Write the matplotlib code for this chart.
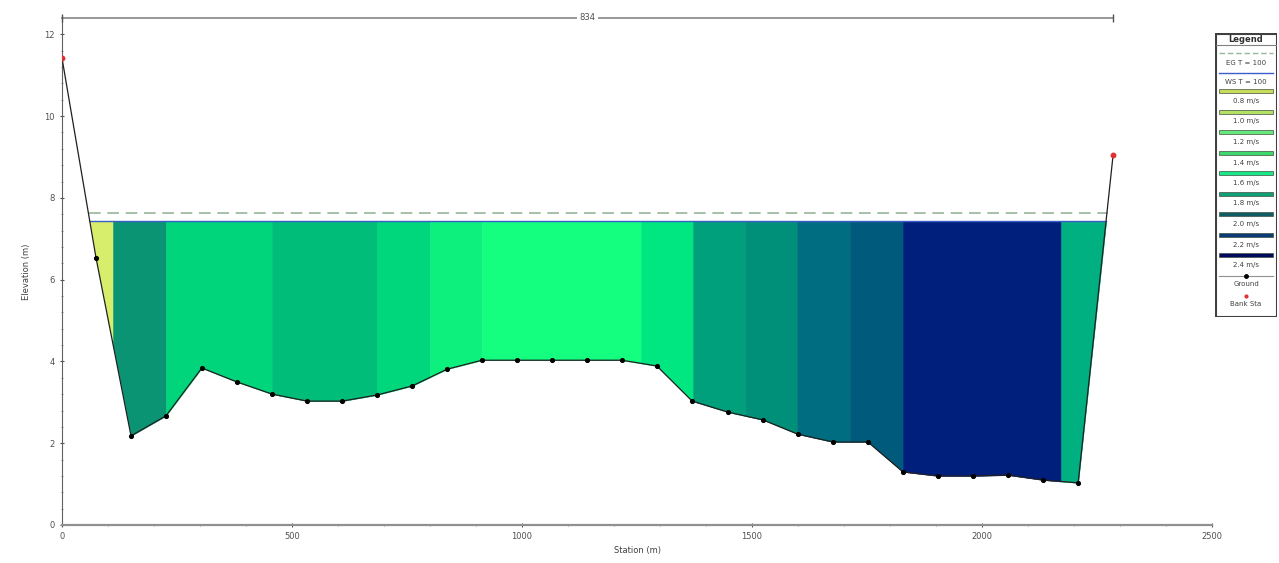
import numpy as np
import matplotlib
matplotlib.use("Agg")
import matplotlib.pyplot as plt
from matplotlib.patches import Rectangle

# ---------------- data ----------------
station = [0, 74, 150, 226, 304, 380, 457, 533, 609, 685, 761, 837, 913, 989,
           1065, 1141, 1217, 1293, 1370, 1448, 1524, 1600, 1676, 1752, 1828,
           1904, 1980, 2057, 2133, 2209, 2285]
elev = [11.42, 6.53, 2.18, 2.67, 3.84, 3.50, 3.20, 3.03, 3.03, 3.18, 3.40,
        3.81, 4.03, 4.03, 4.03, 4.03, 4.03, 3.89, 3.03, 2.76, 2.57, 2.22,
        2.03, 2.03, 1.30, 1.20, 1.20, 1.22, 1.10, 1.03, 9.05]
bank_sta = [0, 2285]
bank_elev = [11.42, 9.05]
ws_elev = 7.43
eg_elev = 7.63
band_edges = [61, 111, 226, 457, 685, 800, 913, 1259, 1372, 1485, 1598,
              1713, 1828, 2172, 2270]
band_colors = ["#d6ee6c", "#0a9474", "#00d57c", "#00bd79", "#00d67c",
               "#0ef07e", "#14ff80", "#00e680", "#00a07c", "#00907a",
               "#006e80", "#005a7c", "#001e7c", "#00b080"]
legend_labels = ["0.8 m/s", "1.0 m/s", "1.2 m/s", "1.4 m/s", "1.6 m/s",
                 "1.8 m/s", "2.0 m/s", "2.2 m/s", "2.4 m/s"]
legend_colors = ["#c8dc5c", "#b4e064", "#64e87c", "#3cd86c", "#18e888",
                 "#10a078", "#105c64", "#0c3c78", "#000a5c"]
section_label = "834"
xticks = [0, 500, 1000, 1500, 2000, 2500]
yticks = [0, 2, 4, 6, 8, 10, 12]

# ---------------- figure ----------------
W, H = 1279, 563
fig = plt.figure(figsize=(W / 100, H / 100), dpi=100)
fig.patch.set_facecolor("white")
ax = fig.add_axes([62 / W, (H - 525) / H, (1212 - 62) / W, (525 - 18) / H])
ax.set_xlim(0, 2500)
ax.set_ylim(0, 12.4)

st = np.array(station, float)
el = np.array(elev, float)

# velocity bands
for i, c in enumerate(band_colors):
    a, b = band_edges[i], band_edges[i + 1]
    inner = st[(st > a) & (st < b)]
    xs = np.concatenate([[a], inner, [b]])
    gs = np.minimum(np.interp(xs, st, el), ws_elev)
    ax.fill_between(xs, gs, ws_elev, facecolor=c, edgecolor=c, lw=0.4,
                    zorder=2)

# water surface & energy grade
ax.plot([band_edges[0], band_edges[-1]], [ws_elev, ws_elev], color="#3a5ec8",
        lw=1.0, zorder=3)
ax.plot([band_edges[0] - 3, band_edges[-1] + 3], [eg_elev, eg_elev],
        color="#98b49a", lw=1.2, dashes=(7, 4), zorder=3)

# ground
ax.plot(st, el, color="#202020", lw=0.9, zorder=4)
ax.plot(st[1:-1], el[1:-1], "o", color="black", ms=2.7, zorder=5)
ax.plot(bank_sta, bank_elev, "o", color="#e03030", ms=3.2, zorder=6)

# top section-length line
ax.plot([bank_sta[0], bank_sta[1]], [12.4, 12.4], color="#909090", lw=1.3,
        clip_on=False, zorder=3)
ax.plot([bank_sta[0], bank_sta[1]], [12.4, 12.4], "|", color="#505050",
        ms=6, clip_on=False, zorder=3)
ax.text((bank_sta[0] + bank_sta[1]) / 2, 12.4, section_label, fontsize=6,
        color="#505050", ha="center", va="center",
        bbox=dict(facecolor="white", edgecolor="none", pad=1.5), zorder=4)

# axes styling
for s in ["top", "right"]:
    ax.spines[s].set_visible(False)
ax.spines["left"].set_color("#606060")
ax.spines["bottom"].set_color("#909090")
ax.spines["bottom"].set_linewidth(1.6)
ax.set_xticks(xticks)
ax.set_yticks(yticks)
ax.set_xticks(np.arange(0, 2501, 100), minor=True)
ax.set_yticks(np.arange(0, 12.01, 0.4), minor=True)
ax.tick_params(axis="both", which="major", labelsize=6, colors="#505050",
               length=3, direction="inout")
ax.tick_params(axis="both", which="minor", length=2, colors="#808080",
               direction="inout")
ax.set_xlabel("Station (m)", fontsize=6, color="#404040", labelpad=4)
ax.set_ylabel("Elevation (m)", fontsize=6, color="#404040", labelpad=10)

# ---------------- legend ----------------
lx0, lx1, ly0, ly1 = 1215, 1277, 33, 317
lax = fig.add_axes([lx0 / W, (H - ly1) / H, (lx1 - lx0) / W, (ly1 - ly0) / H])
lax.set_xlim(0, lx1 - lx0)
lax.set_ylim(ly1 - ly0, 0)
lax.axis("off")
lw_ = lx1 - lx0
lax.add_patch(Rectangle((0.5, 0.5), lw_ - 1, ly1 - ly0 - 1, fill=False,
                        ec="#404040", lw=1.5))
lax.text(lw_ / 2, 6, "Legend", fontsize=6, fontweight="bold", ha="center",
         va="center", color="#303030")
lax.plot([1, lw_ - 1], [12, 12], color="#808080", lw=0.8)
y = 20
lax.plot([4, lw_ - 4], [y, y], color="#98b49a", lw=1.0, dashes=(4, 2))
lax.text(lw_ / 2, y + 10, "EG T = 100", fontsize=5, ha="center", va="center",
         color="#404040")
y += 20
lax.plot([4, lw_ - 4], [y, y], color="#3a5ec8", lw=1.0)
lax.text(lw_ / 2, y + 9, "WS T = 100", fontsize=5, ha="center", va="center",
         color="#404040")
y += 18
for lab, c in zip(legend_labels, legend_colors):
    lax.add_patch(Rectangle((4, y - 2), lw_ - 8, 4, fc=c, ec="#405040",
                            lw=0.5))
    lax.text(lw_ / 2, y + 10, lab, fontsize=5, ha="center", va="center",
             color="#404040")
    y += 20.5
lax.plot([4, lw_ - 4], [y, y], color="#909090", lw=0.8)
lax.plot([lw_ / 2], [y], "o", color="black", ms=2.5)
lax.text(lw_ / 2, y + 9, "Ground", fontsize=5, ha="center", va="center",
         color="#404040")
y += 20
lax.plot([lw_ / 2], [y], "o", color="#e03030", ms=2)
lax.text(lw_ / 2, y + 9, "Bank Sta", fontsize=5, ha="center", va="center",
         color="#404040")

fig.savefig("out.png", dpi=100, facecolor="white")
